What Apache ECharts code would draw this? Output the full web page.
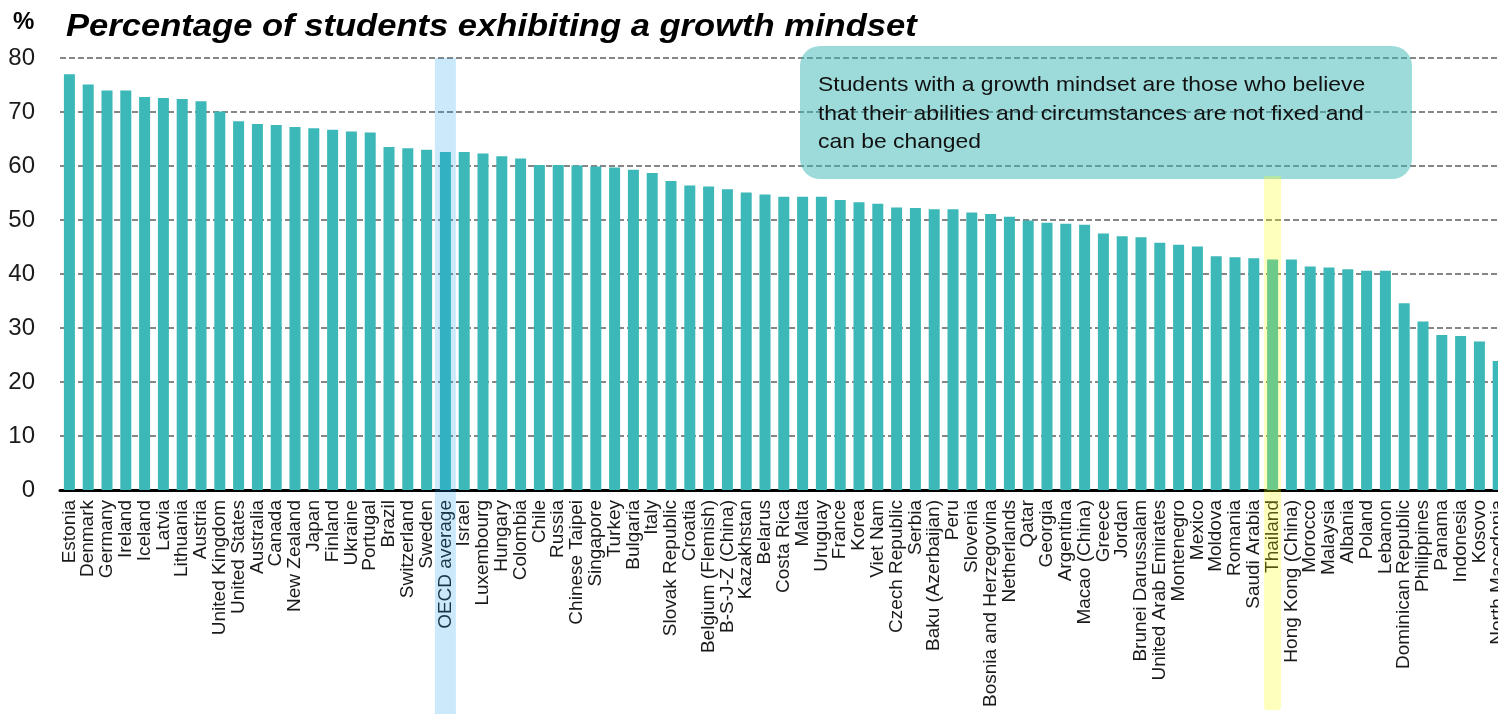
<!DOCTYPE html>
<html>
<head>
<meta charset="utf-8">
<script src="https://cdn.jsdelivr.net/npm/echarts@6/dist/echarts.min.js"></script>
<style>
  html, body { margin: 0; padding: 0; background: #fff; }
  #chart { width: 1498px; height: 714px; }
</style>
</head>
<body>
<div id="chart"></div>
<script>
// data
const categories = [
  "Estonia", "Denmark", "Germany", "Ireland", "Iceland", "Latvia", "Lithuania", "Austria",
  "United Kingdom", "United States", "Australia", "Canada", "New Zealand", "Japan", "Finland",
  "Ukraine", "Portugal", "Brazil", "Switzerland", "Sweden", "OECD average", "Israel",
  "Luxembourg", "Hungary", "Colombia", "Chile", "Russia", "Chinese Taipei", "Singapore",
  "Turkey", "Bulgaria", "Italy", "Slovak Republic", "Croatia", "Belgium (Flemish)",
  "B-S-J-Z (China)", "Kazakhstan", "Belarus", "Costa Rica", "Malta", "Uruguay", "France",
  "Korea", "Viet Nam", "Czech Republic", "Serbia", "Baku (Azerbaijan)", "Peru", "Slovenia",
  "Bosnia and Herzegovina", "Netherlands", "Qatar", "Georgia", "Argentina", "Macao (China)",
  "Greece", "Jordan", "Brunei Darussalam", "United Arab Emirates", "Montenegro", "Mexico",
  "Moldova", "Romania", "Saudi Arabia", "Thailand", "Hong Kong (China)", "Morocco",
  "Malaysia", "Albania", "Poland", "Lebanon", "Dominican Republic", "Philippines", "Panama",
  "Indonesia", "Kosovo", "North Macedonia"
];
const growthMindset = [
  77.0, 75.1, 74.0, 74.0, 72.8, 72.6, 72.4, 72.0,
  70.1, 68.3, 67.8, 67.6, 67.2, 67.0, 66.7,
  66.4, 66.2, 63.5, 63.3, 63.0, 62.6, 62.6,
  62.3, 61.8, 61.4, 60.2, 60.2, 60.1, 59.9,
  59.7, 59.3, 58.7, 57.2, 56.4, 56.2,
  55.7, 55.1, 54.7, 54.3, 54.3, 54.3, 53.7,
  53.3, 53.0, 52.3, 52.2, 52.0, 52.0, 51.4,
  51.1, 50.6, 49.9, 49.5, 49.3, 49.1,
  47.5, 47.0, 46.8, 45.8, 45.4, 45.1,
  43.3, 43.1, 42.9, 42.7, 42.7, 41.4,
  41.2, 40.9, 40.6, 40.6, 34.6, 31.2, 28.7,
  28.5, 27.5, 23.9
];
const yMin = 0;
const yMax = 80;
const yStep = 10;
const highlightAverage = "OECD average";
const highlightCountry = "Thailand";
const titleText = "Percentage of students exhibiting a growth mindset";
const noteLines = [
  "Students with a growth mindset are those who believe",
  "that their abilities and circumstances are not fixed and",
  "can be changed"
];

const FONT = "'Liberation Sans', Arial, sans-serif";
const chart = echarts.init(document.getElementById("chart"));

const option = {
  animation: false,
  textStyle: { fontFamily: FONT },
  title: [
    {
      text: "%", left: 8, top: 5,
      textStyle: { fontSize: 24, fontWeight: "bold", color: "#000", fontFamily: FONT }
    }
  ],
  grid: {
    left: 60,
    top: 58,
    height: 432,
    // plot runs past the right edge, last label is cut like the source
    width: categories.length * 18.8,
    outerBoundsMode: "none"
  },
  xAxis: {
    type: "category",
    data: categories,
    axisLine: { lineStyle: { color: "#000", width: 3 } },
    axisTick: { show: false },
    axisLabel: {
      interval: 0,
      rotate: 90,
      margin: 10,
      fontSize: 19,
      color: "#1a1a1a",
      fontFamily: FONT
    }
  },
  yAxis: {
    type: "value",
    min: yMin,
    max: yMax,
    interval: yStep,
    axisLine: { show: false },
    axisTick: { show: false },
    axisLabel: { fontSize: 24, color: "#1a1a1a", margin: 25, fontFamily: FONT },
    splitLine: { lineStyle: { color: "#5f5f5f", width: 1.6, type: [6, 3] } }
  },
  series: [
    {
      type: "bar",
      data: growthMindset,
      barWidth: 11,
      itemStyle: { color: "#3cb8b8" }
    }
  ]
};
chart.setOption(option);

// highlight bands + note box, placed from the axis scales
function band(name, yTop, yBottom, w, fill, r) {
  const x = chart.convertToPixel({ xAxisIndex: 0 }, categories.indexOf(name));
  return {
    type: "rect", z: 100, silent: true,
    shape: { x: x - w / 2, y: yTop, width: w, height: yBottom - yTop, r: r || 0 },
    style: { fill: fill }
  };
}
const yTopPx = chart.convertToPixel({ yAxisIndex: 0 }, yMax);
const box = { x: 800, y: 46, w: 612, h: 133 };

chart.setOption({
  graphic: [
    {
      // source text is a bit wider than it is tall, so stretch it a little
      type: "text", z: 60, silent: true,
      x: 66, y: 12, scaleX: 1.115,
      style: {
        text: titleText,
        font: "italic bold 31px " + FONT,
        fill: "#000"
      }
    },
    band(highlightAverage, yTopPx, 714, 21, "rgba(20,155,230,0.22)"),
    band(highlightCountry, box.y + box.h - 3, 710, 17, "rgba(255,255,0,0.26)", [0, 0, 3, 3]),
    {
      type: "rect", z: 50, silent: true,
      shape: { x: box.x, y: box.y, width: box.w, height: box.h, r: 20 },
      style: { fill: "rgba(60,184,184,0.5)" }
    },
    {
      type: "text", z: 60, silent: true,
      x: box.x + 18, y: box.y + 25, scaleX: 1.09,
      style: {
        text: noteLines.join("\n"),
        font: "21px " + FONT,
        lineHeight: 28.5,
        fill: "#111"
      }
    }
  ]
});
</script>
</body>
</html>
